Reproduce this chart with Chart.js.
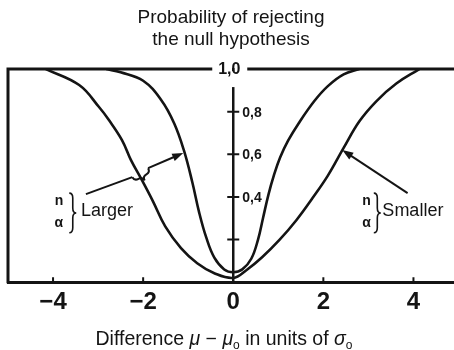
<!DOCTYPE html>
<html>
<head>
<meta charset="utf-8">
<script src="https://cdn.jsdelivr.net/npm/chart.js@4.4.1/dist/chart.umd.min.js"></script>
<style>
  html, body { margin: 0; padding: 0; background: #fff; }
  #wrap { width: 454px; height: 350px; }
</style>
</head>
<body>
<div id="wrap"><canvas id="powerChart"></canvas></div>
<script>
const titleLines = ['Probability of rejecting', 'the null hypothesis'];
const xTicks = [-4, -2, 0, 2, 4];
const xTickLabels = ['\u22124', '\u22122', '0', '2', '4'];
const yTicks = [0.2, 0.4, 0.6, 0.8, 1.0];
const yTickLabels = ['', '0,4', '0,6', '0,8', '1,0'];

// power curve, larger n and alpha (the narrow one)
const largerX = [-2.82, -2.5, -2.0, -1.6, -1.31, -1.09, -0.91, -0.76, -0.6, -0.42, -0.2, 0,
                 0.2, 0.4, 0.55, 0.66, 0.78, 0.9, 1.04, 1.22, 1.45, 1.8, 2.1, 2.45, 2.8];
const largerP = [1.0, 0.985, 0.945, 0.855, 0.745, 0.615, 0.47, 0.33, 0.21, 0.115, 0.06, 0.047,
                 0.06, 0.11, 0.2, 0.3, 0.41, 0.5, 0.585, 0.665, 0.745, 0.85, 0.92, 0.975, 1.0];

// power curve, smaller n and alpha (the wide one)
const smallerX = [-4.16, -3.42, -2.98, -2.76, -2.47, -2.27, -2.03, -1.79, -1.51, -1.16, -0.8, -0.42, 0,
                  0.29, 0.64, 1.02, 1.4, 1.76, 2.1, 2.45, 2.8, 3.18, 3.62, 4.13];
const smallerP = [1.0, 0.925, 0.822, 0.761, 0.667, 0.573, 0.48, 0.383, 0.262, 0.16, 0.089, 0.042, 0.02,
                  0.056, 0.117, 0.197, 0.291, 0.395, 0.5, 0.63, 0.755, 0.85, 0.932, 1.0];

const ink = '#141414';
const textFont = 'Liberation Sans, Arial, sans-serif';
const narrowFont = 'Liberation Sans Narrow, Liberation Sans, sans-serif';

function toPoints(xs, ys) {
    return xs.map((x, i) => ({ x: x, y: ys[i] }));
}

// curly brace "}" standing upright, tip pointing right
function upBrace(ctx, x, top, bottom, w) {
    const mid = (top + bottom) / 2, h = w / 2, r = 5;
    ctx.beginPath();
    ctx.moveTo(x, top);
    ctx.quadraticCurveTo(x + h, top, x + h, top + r);
    ctx.lineTo(x + h, mid - r);
    ctx.quadraticCurveTo(x + h, mid, x + w, mid);
    ctx.quadraticCurveTo(x + h, mid, x + h, mid + r);
    ctx.lineTo(x + h, bottom - r);
    ctx.quadraticCurveTo(x + h, bottom, x, bottom);
    ctx.stroke();
}

// small brace lying between two points, cusp offset sideways by depth
function sideBrace(ctx, ax, ay, bx, by, depth) {
    const L = Math.hypot(bx - ax, by - ay);
    ctx.save();
    ctx.translate(ax, ay);
    ctx.rotate(Math.atan2(by - ay, bx - ax));
    ctx.beginPath();
    ctx.moveTo(0, 0);
    ctx.quadraticCurveTo(0, depth / 2, L / 4, depth / 2);
    ctx.quadraticCurveTo(L / 2, depth / 2, L / 2, depth);
    ctx.quadraticCurveTo(L / 2, depth / 2, 3 * L / 4, depth / 2);
    ctx.quadraticCurveTo(L, depth / 2, L, 0);
    ctx.stroke();
    ctx.restore();
}

function arrow(ctx, x1, y1, x2, y2) {
    const a = Math.atan2(y2 - y1, x2 - x1), len = 11, half = 4;
    const c = Math.cos(a), s = Math.sin(a);
    ctx.beginPath();
    ctx.moveTo(x1, y1);
    ctx.lineTo(x2 - len * 0.8 * c, y2 - len * 0.8 * s);
    ctx.stroke();
    ctx.beginPath();
    ctx.moveTo(x2, y2);
    ctx.lineTo(x2 - len * c + half * s, y2 - len * s - half * c);
    ctx.lineTo(x2 - len * c - half * s, y2 - len * s + half * c);
    ctx.closePath();
    ctx.fill();
}

const decorations = {
    id: 'decorations',
    afterDraw(chart) {
        const { ctx, chartArea: area, scales: { x, y } } = chart;
        const px = v => x.getPixelForValue(v);
        const py = v => y.getPixelForValue(v);
        const x0 = px(0);
        const last = yTicks.length - 1;

        ctx.save();
        ctx.strokeStyle = ink;
        ctx.fillStyle = ink;

        // left and top frame, the top one broken for the 1,0 label
        ctx.lineWidth = 3;
        ctx.beginPath();
        ctx.moveTo(area.left, area.bottom + 1);
        ctx.lineTo(area.left, area.top);
        ctx.lineTo(x0 - 21, area.top);
        ctx.moveTo(x0 + 14, area.top);
        ctx.lineTo(area.right, area.top);
        ctx.stroke();

        // the central axis stops short of the top line
        ctx.fillStyle = '#fff';
        ctx.fillRect(x0 - 4, area.top + 2, 8, 16);
        ctx.fillStyle = ink;

        // value labels: the top one sits on the frame, the rest right of the axis
        ctx.textBaseline = 'middle';
        ctx.font = 'bold 16px ' + narrowFont;
        ctx.textAlign = 'center';
        ctx.fillText(yTickLabels[last], x0 - 4, py(yTicks[last]) + 1);
        ctx.font = 'bold 14px ' + narrowFont;
        ctx.textAlign = 'left';
        yTicks.slice(0, last).forEach((v, i) => ctx.fillText(yTickLabels[i], x0 + 9, py(v) + 1));

        // crossing ticks on the central axis
        ctx.lineWidth = 2;
        ctx.beginPath();
        yTicks.slice(0, last).forEach(v => {
            ctx.moveTo(x0 - 6, py(v));
            ctx.lineTo(x0 + 6, py(v));
        });
        // short inward ticks on the bottom axis
        xTicks.filter(v => v !== 0).forEach(v => {
            ctx.moveTo(px(v), py(0));
            ctx.lineTo(px(v), py(0) - 5);
        });
        ctx.stroke();

        // n / alpha labels with braces
        ctx.lineWidth = 1.6;
        [[-3.87, -3.64, -3.38, 'Larger'], [2.96, 3.12, 3.31, 'Smaller']].forEach(([nx, bx, tx, word]) => {
            ctx.font = 'bold 14px ' + narrowFont;
            ctx.textAlign = 'center';
            ctx.fillText('n', px(nx), py(0.38));
            ctx.fillText('\u03b1', px(nx), py(0.275));
            upBrace(ctx, px(bx), py(0.418), py(0.232), 7);
            ctx.font = '18px ' + textFont;
            ctx.textAlign = 'left';
            ctx.fillText(word, px(tx), py(0.333));
        });

        // pointer from "Larger" across the wide curve to the narrow one
        ctx.lineWidth = 2;
        ctx.beginPath();
        ctx.moveTo(px(-3.27), py(0.413));
        ctx.lineTo(px(-2.24), py(0.493));
        ctx.stroke();
        sideBrace(ctx, px(-2.24), py(0.493), px(-1.89), py(0.535), 9);
        arrow(ctx, px(-1.89), py(0.535), px(-1.11), py(0.606));

        // pointer from "Smaller" to the wide curve
        arrow(ctx, px(3.87), py(0.418), px(2.42), py(0.62));

        // axis title with italic symbols and subscripts
        const parts = [
            ['Difference ', '19.5px ' + textFont, 0],
            ['\u03bc', 'italic 19.5px ' + textFont, 0],
            [' \u2212 ', '19.5px ' + textFont, 0],
            ['\u03bc', 'italic 19.5px ' + textFont, 0],
            ['o', '12px ' + textFont, 4],
            [' in units of ', '19.5px ' + textFont, 0],
            ['\u03c3', 'italic 19.5px ' + textFont, 0],
            ['o', '12px ' + textFont, 4]
        ];
        let total = 0;
        parts.forEach(p => { ctx.font = p[1]; total += ctx.measureText(p[0]).width; });
        let cx = 224 - total / 2;
        ctx.textAlign = 'left';
        ctx.textBaseline = 'alphabetic';
        parts.forEach(p => {
            ctx.font = p[1];
            ctx.fillText(p[0], cx, 345 + p[2]);
            cx += ctx.measureText(p[0]).width;
        });
        ctx.restore();
    }
};

const ctx = document.getElementById('powerChart').getContext('2d');
const lineStyle = {
    showLine: true,
    borderColor: ink,
    borderWidth: 2.6,
    pointRadius: 0,
    fill: false,
    tension: 0.4
};

new Chart(ctx, {
    type: 'scatter',
    data: {
        datasets: [
            Object.assign({ label: 'Larger', data: toPoints(largerX, largerP) }, lineStyle),
            Object.assign({ label: 'Smaller', data: toPoints(smallerX, smallerP) }, lineStyle)
        ]
    },
    options: {
        responsive: true,
        maintainAspectRatio: false,
        animation: false,
        layout: { padding: { left: 8, right: 0, top: 0, bottom: 27 } },
        plugins: {
            legend: { display: false },
            tooltip: { enabled: false },
            title: {
                display: true,
                text: titleLines,
                color: ink,
                font: { family: textFont, size: 19, weight: 'normal', lineHeight: 1.16 },
                padding: { top: 7, bottom: 18 }
            }
        },
        scales: {
            x: {
                type: 'linear',
                min: -5,
                max: 4.9,
                afterBuildTicks: scale => { scale.ticks = xTicks.map(v => ({ value: v })); },
                grid: { display: false, drawTicks: false },
                border: { color: ink, width: 3 },
                ticks: {
                    padding: 6,
                    color: ink,
                    font: { family: narrowFont, size: 24, weight: 'bold' },
                    callback: (v, i) => xTickLabels[i]
                }
            },
            y: {
                type: 'linear',
                min: 0,
                max: 1,
                position: { x: 0 },
                afterBuildTicks: scale => { scale.ticks = yTicks.map(v => ({ value: v })); },
                grid: { display: false, drawTicks: false },
                border: { color: ink, width: 2.5 },
                ticks: { display: false }
            }
        }
    },
    plugins: [decorations]
});
</script>
</body>
</html>
